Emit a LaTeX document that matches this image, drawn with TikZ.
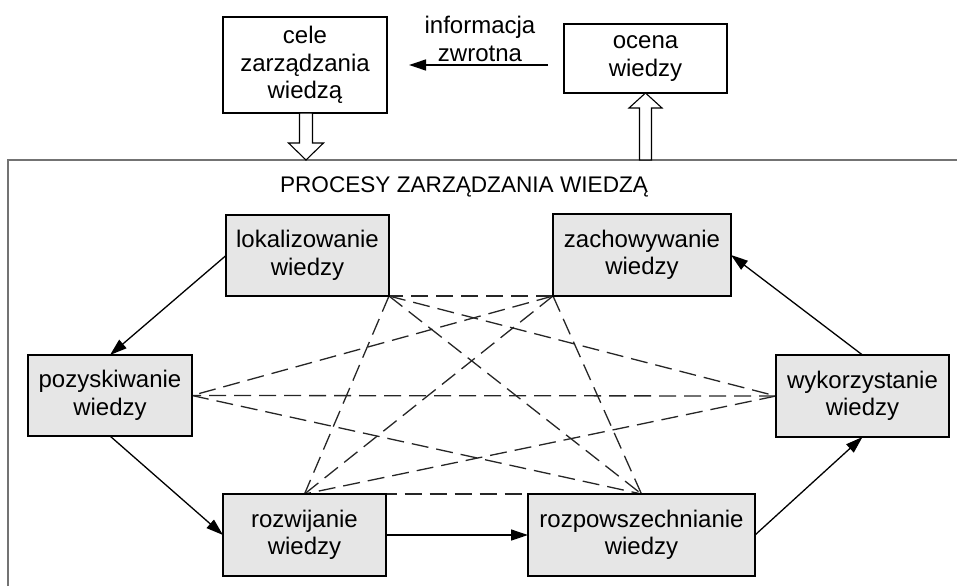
\documentclass[tikz,border=0pt]{standalone}
\usepackage{fontspec}
\setmainfont{Liberation Sans}
\usetikzlibrary{arrows.meta,calc}
\definecolor{procfill}{HTML}{E6E6E6}
\pgfdeclarelayer{bg}
\pgfsetlayers{bg,main}
\begin{document}
\begin{tikzpicture}[x=1pt,y=-1pt,
  proc/.style={draw=black,line width=2.1pt,fill=procfill,inner sep=0pt,outer sep=0pt,align=center,font=\fontsize{24}{27.5}\selectfont},
  topbox/.style={proc,fill=white},
  lbl/.style={inner sep=0pt,align=center,font=\fontsize{24}{27.5}\selectfont},
  flow/.style={line width=1.3pt,-{Triangle[length=17pt,width=11pt]}},
  link/.style={line width=1.3pt,draw=black!85,dash pattern=on 17pt off 8pt},
  hollow/.style={draw=black,line width=1.1pt,fill=white,line join=miter},
  frameline/.style={draw=black!55,line width=2pt}]
\useasboundingbox (0,0) rectangle (957,586);

% frame of the process area
\draw[frameline] (8,586) -- (8,159.5) -- (957,159.5);

% top boxes
\node[topbox,minimum width=164pt,minimum height=96pt] (cele) at (305,65) {cele\\zarządzania\\wiedzą};
\node[topbox,minimum width=163pt,minimum height=69pt] (ocena) at (645.5,58.5) {ocena\\wiedzy};
\node[lbl] (info) at (480,39) {informacja\\zwrotna};
\draw[flow,shorten <=16pt,shorten >=22pt] (ocena.west |- cele.east) -- (cele.east);

% hollow arrows
\draw[hollow] ($(cele.south)+(-5.5,0)$) -- ++(13,0) -- ++(0,30) -- ++(11,0) -- ++(-17.5,17) -- ++(-17.5,-17) -- ++(11,0) -- cycle;
\draw[hollow] (ocena.south) -- ++(16.5,15) -- ++(-10.5,0) -- ++(0,52) -- ++(-12,0) -- ++(0,-52) -- ++(-10.5,0) -- cycle;

% title
\node[inner sep=0pt,anchor=base,font=\fontsize{22.6}{26}\selectfont] (title) at (464,192.5) {PROCESY ZARZĄDZANIA WIEDZĄ};

% process boxes
\node[proc,minimum width=163pt,minimum height=81pt] (lok) at (307.5,255.5) {lokalizowanie\\wiedzy};
\node[proc,minimum width=178pt,minimum height=82pt] (zach) at (642,255) {zachowywanie\\wiedzy};
\node[proc,minimum width=164pt,minimum height=81pt] (poz) at (110,395.5) {pozyskiwanie\\wiedzy};
\node[proc,minimum width=173pt,minimum height=82pt] (wyk) at (862.5,396) {wykorzystanie\\wiedzy};
\node[proc,minimum width=163pt,minimum height=82pt] (roz) at (304.5,535) {rozwijanie\\wiedzy};
\node[proc,minimum width=227pt,minimum height=82pt] (rozp) at (641.5,535) {rozpowszechnianie\\wiedzy};

% main flow
\draw[flow] (lok.west) -- (poz.north);
\draw[flow] (poz.south) -- (roz.west);
\draw[flow] (roz.east) -- (rozp.west);
\draw[flow] (rozp.east) -- (wyk.south);
\draw[flow] (wyk.north) -- (zach.east);

% dashed links
\begin{pgfonlayer}{bg}
\draw[link] (zach.south west) -- (lok.south east);
\draw[link] (zach.south west) -- (poz.east);
\draw[link] (zach.south west) -- (roz.north);
\draw[link] (zach.south west) -- (rozp.north);
\draw[link] (lok.south east) -- (wyk.west);
\draw[link] (lok.south east) -- (rozp.north);
\draw[link] (lok.south east) -- (roz.north);
\draw[link] (wyk.west) -- (poz.east);
\draw[link] (poz.east) -- (rozp.north);
\draw[link] (wyk.west) -- (roz.north);
\draw[link] (roz.north) -- (rozp.north);
\end{pgfonlayer}
\end{tikzpicture}
\end{document}
